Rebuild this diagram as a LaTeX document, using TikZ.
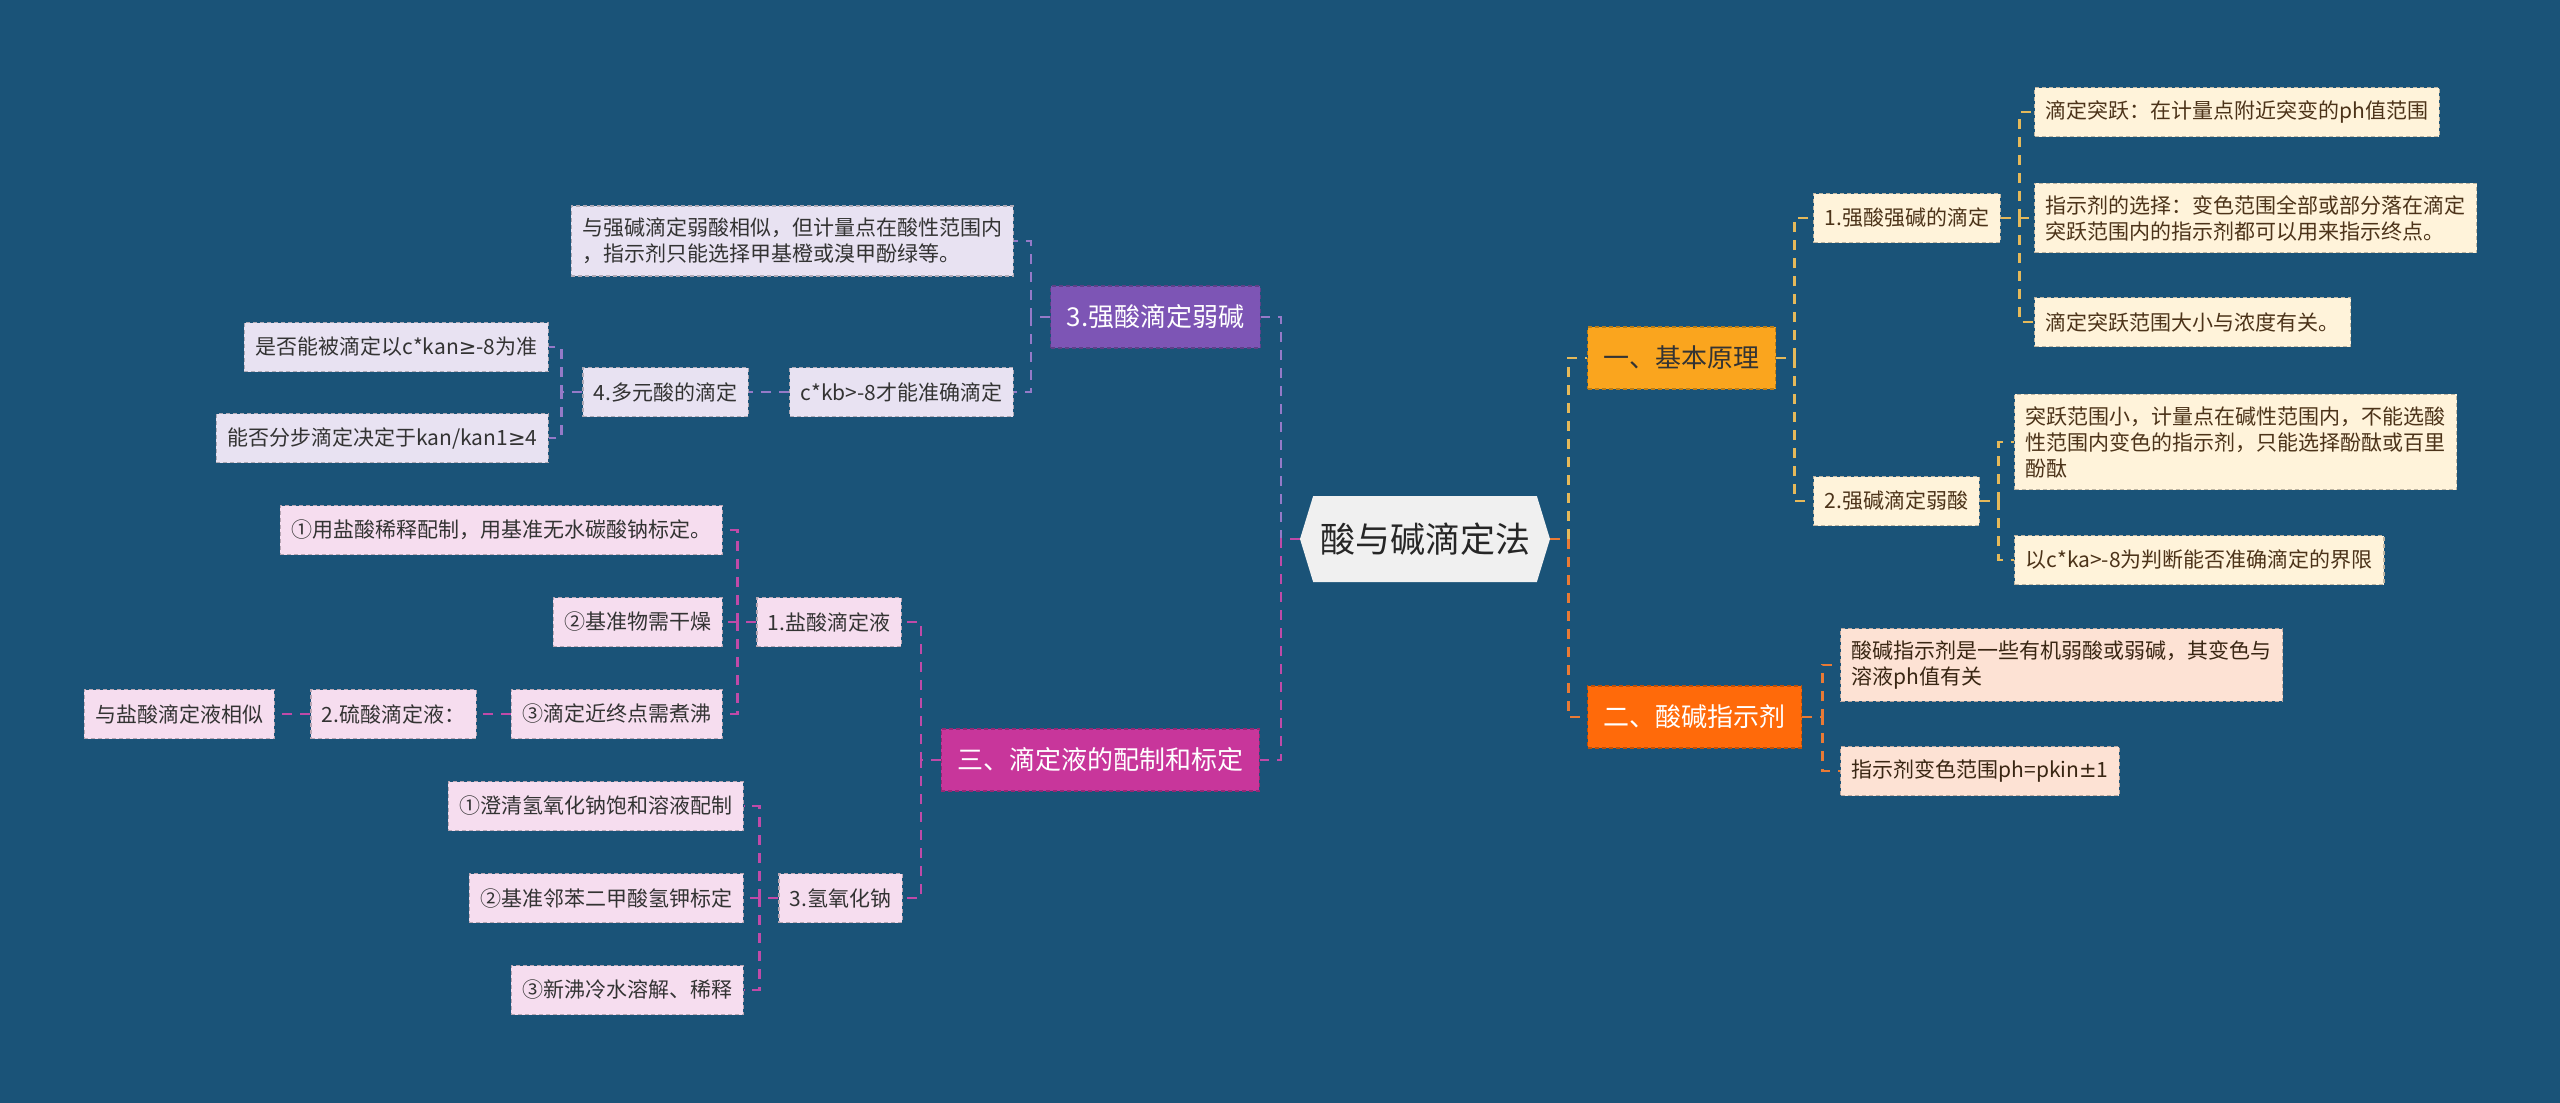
\documentclass[tikz,border=0pt]{standalone}
\usepackage{fontspec}
\setmainfont{Noto Sans CJK SC}
\newfontfamily\symfont{DejaVu Sans}
\usetikzlibrary{shapes.symbols}

\definecolor{bgblue}{HTML}{1A5378}
\definecolor{yellowline}{HTML}{E5B95A}
\definecolor{orangeline}{HTML}{E97A35}
\definecolor{purpleline}{HTML}{957AC8}
\definecolor{magentaline}{HTML}{C04AA8}
\definecolor{yellowfill}{HTML}{FAA51E}
\definecolor{orangefill}{HTML}{FF6A0A}
\definecolor{purplefill}{HTML}{7D55B5}
\definecolor{magentafill}{HTML}{C8369B}
\definecolor{creamfill}{HTML}{FFF3DA}
\definecolor{peachfill}{HTML}{FDE2D4}
\definecolor{lavenderfill}{HTML}{E8E2F2}
\definecolor{pinkfill}{HTML}{F6DDEF}

\tikzset{
  box/.style={rectangle, draw=#1!75!black, dashed, dash pattern=on 4pt off 3pt, line width=1.2pt,
    fill=#1, inner xsep=11pt, inner ysep=12pt, minimum height=49pt, align=left,
    font=\fontsize{21}{26}\selectfont},
  topic/.style={box=#1, inner xsep=16pt, minimum height=62pt, font=\fontsize{26}{32}\selectfont},
  link/.style={draw=#1, line width=2.6pt, dash pattern=on 10pt off 8pt}
}

\begin{document}
\begin{tikzpicture}[x=1pt, y=-1pt]
\fill[bgblue] (0,0) rectangle (2560,1103);
\useasboundingbox (0,0) rectangle (2560,1103);

% centre
\node[signal, signal to=west and east, signal pointer angle=146, fill=black!6, text=black!85,
  minimum width=250pt, minimum height=86pt, inner sep=0pt, font=\fontsize{35}{40}\selectfont]
  (main) at (1425, 539) {酸与碱滴定法};

% right side
\node[topic=yellowfill, text=black!80, anchor=west] (basic) at (1587, 358) {一、基本原理};
\node[topic=orangefill, text=white, anchor=west] (indic) at (1587, 717) {二、酸碱指示剂};

\node[box=creamfill, text=brown!40!black, anchor=west] (sasb) at (1813, 218) {1.强酸强碱的滴定};
\node[box=creamfill, text=brown!40!black, anchor=west] (sbwa) at (1813, 501) {2.强碱滴定弱酸};
\node[box=creamfill, text=brown!40!black, anchor=west] (jump) at (2034, 112) {滴定突跃：在计量点附近突变的ph值范围};
\node[box=creamfill, text=brown!40!black, anchor=west] (choose) at (2034, 218) {指示剂的选择：变色范围全部或部分落在滴定\\突跃范围内的指示剂都可以用来指示终点。};
\node[box=creamfill, text=brown!40!black, anchor=west] (conc) at (2034, 322) {滴定突跃范围大小与浓度有关。};
\node[box=creamfill, text=brown!40!black, anchor=west] (small) at (2014, 442) {突跃范围小，计量点在碱性范围内，不能选酸\\性范围内变色的指示剂，只能选择酚酞或百里\\酚酞};
\node[box=creamfill, text=brown!40!black, anchor=west] (limit) at (2014, 560) {以c*ka>-8为判断能否准确滴定的界限};

\node[box=peachfill, text=brown!30!black, anchor=west] (organic) at (1840, 665) {酸碱指示剂是一些有机弱酸或弱碱，其变色与\\溶液ph值有关};
\node[box=peachfill, text=brown!30!black, anchor=west] (range) at (1840, 771) {指示剂变色范围ph=pkin{\symfont ±}1};

% left side
\node[topic=purplefill, text=white, anchor=east] (sawb) at (1261, 317) {3.强酸滴定弱碱};
\node[topic=magentafill, text=white, anchor=east] (prep) at (1260, 760) {三、滴定液的配制和标定};

\node[box=lavenderfill, text=black!80, anchor=east] (similar) at (1014, 241) {与强碱滴定弱酸相似，但计量点在酸性范围内\\，指示剂只能选择甲基橙或溴甲酚绿等。};
\node[box=lavenderfill, text=black!80, anchor=east] (ckb) at (1014, 392) {c*kb>-8才能准确滴定};
\node[box=lavenderfill, text=black!80, anchor=east] (poly) at (749, 392) {4.多元酸的滴定};
\node[box=lavenderfill, text=black!80, anchor=east] (whether) at (549, 347) {是否能被滴定以c*kan{\symfont ≥}-8为准};
\node[box=lavenderfill, text=black!80, anchor=east] (step) at (549, 438) {能否分步滴定决定于kan/kan1{\symfont ≥}4};

\node[box=pinkfill, text=black!80, anchor=east] (hcl) at (902, 622) {1.盐酸滴定液};
\node[box=pinkfill, text=black!80, anchor=east] (naoh) at (903, 898) {3.氢氧化钠};
\node[box=pinkfill, text=black!80, anchor=east] (hcla) at (723, 530) {①用盐酸稀释配制，用基准无水碳酸钠标定。};
\node[box=pinkfill, text=black!80, anchor=east] (hclb) at (723, 622) {②基准物需干燥};
\node[box=pinkfill, text=black!80, anchor=east] (hclc) at (723, 714) {③滴定近终点需煮沸};
\node[box=pinkfill, text=black!80, anchor=east] (hso) at (477, 714) {2.硫酸滴定液：};
\node[box=pinkfill, text=black!80, anchor=east] (like) at (275, 714) {与盐酸滴定液相似};
\node[box=pinkfill, text=black!80, anchor=east] (naoha) at (744, 806) {①澄清氢氧化钠饱和溶液配制};
\node[box=pinkfill, text=black!80, anchor=east] (naohb) at (744, 898) {②基准邻苯二甲酸氢钾标定};
\node[box=pinkfill, text=black!80, anchor=east] (naohc) at (744, 990) {③新沸冷水溶解、稀释};

% links, right
\draw[link=yellowline] (main.east) -- ++(18,0) |- (basic.west);
\draw[link=orangeline] (main.east) -- ++(18,0) |- (indic.west);
\draw[link=yellowline] (basic.east) -- ++(18,0) |- (sasb.west);
\draw[link=yellowline] (basic.east) -- ++(18,0) |- (sbwa.west);
\draw[link=yellowline] (sasb.east) -- ++(19,0) |- (jump.west);
\draw[link=yellowline] (sasb.east) -- ++(19,0) |- (choose.west);
\draw[link=yellowline] (sasb.east) -- ++(19,0) |- (conc.west);
\draw[link=yellowline] (sbwa.east) -- ++(19,0) |- (small.west);
\draw[link=yellowline] (sbwa.east) -- ++(19,0) |- (limit.west);
\draw[link=orangeline] (indic.east) -- ++(20,0) |- (organic.west);
\draw[link=orangeline] (indic.east) -- ++(20,0) |- (range.west);

% links, left
\draw[link=purpleline] (main.west) -- ++(-19,0) |- (sawb.east);
\draw[link=magentaline] (main.west) -- ++(-19,0) |- (prep.east);
\draw[link=purpleline] (sawb.west) -- ++(-19,0) |- (similar.east);
\draw[link=purpleline] (sawb.west) -- ++(-19,0) |- (ckb.east);
\draw[link=purpleline] (ckb.west) -- (poly.east);
\draw[link=purpleline] (poly.west) -- ++(-21,0) |- (whether.east);
\draw[link=purpleline] (poly.west) -- ++(-21,0) |- (step.east);
\draw[link=magentaline] (prep.west) -- ++(-20,0) |- (hcl.east);
\draw[link=magentaline] (prep.west) -- ++(-20,0) |- (naoh.east);
\draw[link=magentaline] (hcl.west) -- ++(-19,0) |- (hcla.east);
\draw[link=magentaline] (hcl.west) -- ++(-19,0) |- (hclb.east);
\draw[link=magentaline] (hcl.west) -- ++(-19,0) |- (hclc.east);
\draw[link=magentaline] (hclc.west) -- (hso.east);
\draw[link=magentaline] (hso.west) -- (like.east);
\draw[link=magentaline] (naoh.west) -- ++(-19,0) |- (naoha.east);
\draw[link=magentaline] (naoh.west) -- ++(-19,0) |- (naohb.east);
\draw[link=magentaline] (naoh.west) -- ++(-19,0) |- (naohc.east);
\end{tikzpicture}
\end{document}
